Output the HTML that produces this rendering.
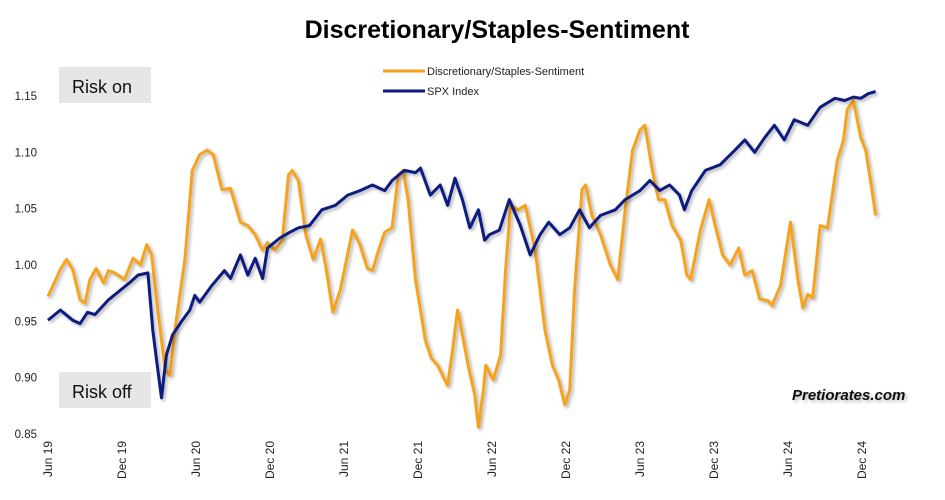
<!DOCTYPE html>
<html><head><meta charset="utf-8"><style>
body{margin:0;background:#fff;width:945px;height:495px;overflow:hidden;font-family:"Liberation Sans",Arial,sans-serif}
</style></head><body>
<svg width="945" height="495" xmlns="http://www.w3.org/2000/svg">
<defs><filter id="sh" x="-5%" y="-5%" width="110%" height="110%"><feDropShadow dx="2" dy="2" stdDeviation="1.5" flood-color="#000" flood-opacity="0.3"/></filter></defs>
<text x="497" y="38" text-anchor="middle" font-size="25" font-weight="bold" fill="#000">Discretionary/Staples-Sentiment</text>
<g id="yaxis"></g>
<g id="xaxis"></g>
<rect x="59" y="67" width="92" height="36" fill="#e6e6e6"/>
<text x="72" y="93" font-size="18" fill="#111">Risk on</text>
<rect x="59" y="372" width="92" height="36" fill="#e6e6e6"/>
<text x="72" y="398" font-size="18" fill="#111">Risk off</text>
<g id="series"></g>
<g>
<line x1="383" y1="71" x2="425" y2="71" stroke="#f7a21b" stroke-width="3"/>
<text x="427" y="75" font-size="11" fill="#222">Discretionary/Staples-Sentiment</text>
<line x1="383" y1="91" x2="425" y2="91" stroke="#0d1a80" stroke-width="3"/>
<text x="427" y="95" font-size="11" fill="#222">SPX Index</text>
</g>
<text x="792" y="400" font-size="15" font-weight="bold" font-style="italic" fill="#111" filter="url(#sh)">Pretiorates.com</text>
</svg>
<script>
const yTicks=[1.15,1.10,1.05,1.00,0.95,0.90,0.85];
const xLabels=["Jun 19","Dec 19","Jun 20","Dec 20","Jun 21","Dec 21","Jun 22","Dec 22","Jun 23","Dec 23","Jun 24","Dec 24"];
const sentT=[0,1,1.5,2,2.6,3,3.4,3.9,4.5,4.9,5.4,6.2,6.9,7.5,8,8.4,8.9,9.5,9.9,10.3,11.1,11.7,12.3,12.9,13.4,14.1,14.8,15.6,16.2,16.8,17.4,17.8,18.4,19,19.5,19.8,20.3,20.9,21.5,22.1,22.5,23.1,23.7,24.7,25.3,25.9,26.3,26.8,27.3,27.9,28.4,28.8,29.2,29.8,30.6,31.1,31.6,32.4,32.8,33.2,33.6,34.1,34.6,34.9,35.3,35.5,36.1,36.7,37.1,37.5,38.1,38.7,39.5,40.3,40.9,41.4,41.9,42.3,42.7,43.3,43.6,44.1,44.8,45.6,46.2,46.8,47.4,48,48.4,49,49.5,50,50.6,51.3,51.8,52.1,52.9,53.6,54.1,54.7,55.3,56,56.5,57.1,57.7,58.4,58.7,59.4,60.2,60.8,61.2,61.6,62,62.6,63.2,64,64.5,64.8,65.3,65.9,66.3,66.8,67.1];
const sentV=[0.972,0.996,1.005,0.996,0.969,0.966,0.987,0.997,0.984,0.995,0.993,0.987,1.006,1.0,1.018,1.009,0.96,0.907,0.902,0.943,1.005,1.084,1.098,1.102,1.098,1.067,1.068,1.038,1.035,1.027,1.013,1.020,1.013,1.022,1.080,1.084,1.075,1.027,1.005,1.023,1.0,0.958,0.978,1.031,1.018,0.997,0.995,1.013,1.029,1.033,1.080,1.084,1.058,0.987,0.933,0.917,0.911,0.893,0.924,0.960,0.938,0.909,0.885,0.856,0.889,0.911,0.898,0.920,0.996,1.053,1.049,1.053,1.013,0.942,0.911,0.898,0.876,0.889,0.978,1.067,1.071,1.044,1.027,1.0,0.987,1.049,1.102,1.120,1.124,1.084,1.058,1.058,1.035,1.022,0.991,0.987,1.031,1.058,1.035,1.009,1.0,1.015,0.991,0.995,0.970,0.968,0.964,0.982,1.038,0.987,0.962,0.974,0.971,1.035,1.033,1.093,1.111,1.138,1.146,1.113,1.102,1.067,1.044];
const spxT=[0,1,2,2.6,3.2,3.8,4.9,5.9,6.7,7.3,8.1,8.5,8.8,9.2,9.6,10.1,10.9,11.5,11.9,12.3,13.3,14.3,14.8,15.6,16.2,16.8,17.4,17.8,18.8,19.6,20.3,21.2,22.2,23.3,24.3,25.3,26.3,27.3,27.9,28.9,29.8,30.2,31,31.8,32.4,33,33.6,34.2,34.9,35.4,35.8,36.6,37.4,38.3,39.1,39.9,40.6,41.5,42.3,43.1,43.9,44.8,46,46.8,48,48.8,49.6,50.4,51.2,51.6,52.2,53.3,54.5,55.7,56.5,57.3,58.1,58.9,59.7,60.5,61.6,62.6,63.8,64.6,65.3,65.9,66.5,67.1];
const spxV=[0.951,0.960,0.951,0.948,0.958,0.956,0.969,0.978,0.985,0.991,0.993,0.942,0.916,0.882,0.920,0.938,0.951,0.960,0.973,0.967,0.982,0.995,0.988,1.009,0.991,1.006,0.988,1.015,1.024,1.029,1.033,1.035,1.049,1.053,1.062,1.066,1.071,1.066,1.075,1.084,1.082,1.086,1.062,1.071,1.053,1.077,1.058,1.033,1.049,1.022,1.027,1.031,1.058,1.035,1.009,1.027,1.038,1.027,1.033,1.049,1.033,1.044,1.049,1.058,1.066,1.075,1.066,1.071,1.062,1.049,1.066,1.084,1.089,1.102,1.111,1.100,1.113,1.124,1.111,1.129,1.124,1.140,1.148,1.146,1.149,1.148,1.152,1.154];
const NS="http://www.w3.org/2000/svg";
function xs(t){return 48+t*74/6;}
function ys(v){return 96+(1.15-v)/0.05*56.33;}
const ya=document.getElementById('yaxis');
yTicks.forEach(v=>{const t=document.createElementNS(NS,'text');


t.setAttribute('x',37);t.setAttribute('y',ys(v)+4);t.setAttribute('text-anchor','end');t.setAttribute('font-size','11.5');t.setAttribute('fill','#222');t.textContent=v.toFixed(2);ya.appendChild(t);});
const xa=document.getElementById('xaxis');
xLabels.forEach((l,i)=>{const t=document.createElementNS(NS,'text');


const x=xs(i*6)+4,y=441;t.setAttribute('x',x);t.setAttribute('y',y);t.setAttribute('transform','rotate(-90 '+x+' '+y+')');t.setAttribute('text-anchor','end');t.setAttribute('font-size','12');t.setAttribute('fill','#222');t.textContent=l;xa.appendChild(t);});
function line(T,V,color,name){const p=document.createElementNS(NS,'polyline');


p.setAttribute('points',T.map((t,i)=>xs(t).toFixed(1)+','+ys(V[i]).toFixed(1)).join(' '));p.setAttribute('fill','none');p.setAttribute('stroke',color);p.setAttribute('stroke-width','3');p.setAttribute('stroke-linejoin','round');p.setAttribute('filter','url(#sh)');document.getElementById('series').appendChild(p);}
line(sentT,sentV,'#f7a21b','sentiment-line');
line(spxT,spxV,'#0d1a80','spx-line');
</script>
</body></html>
